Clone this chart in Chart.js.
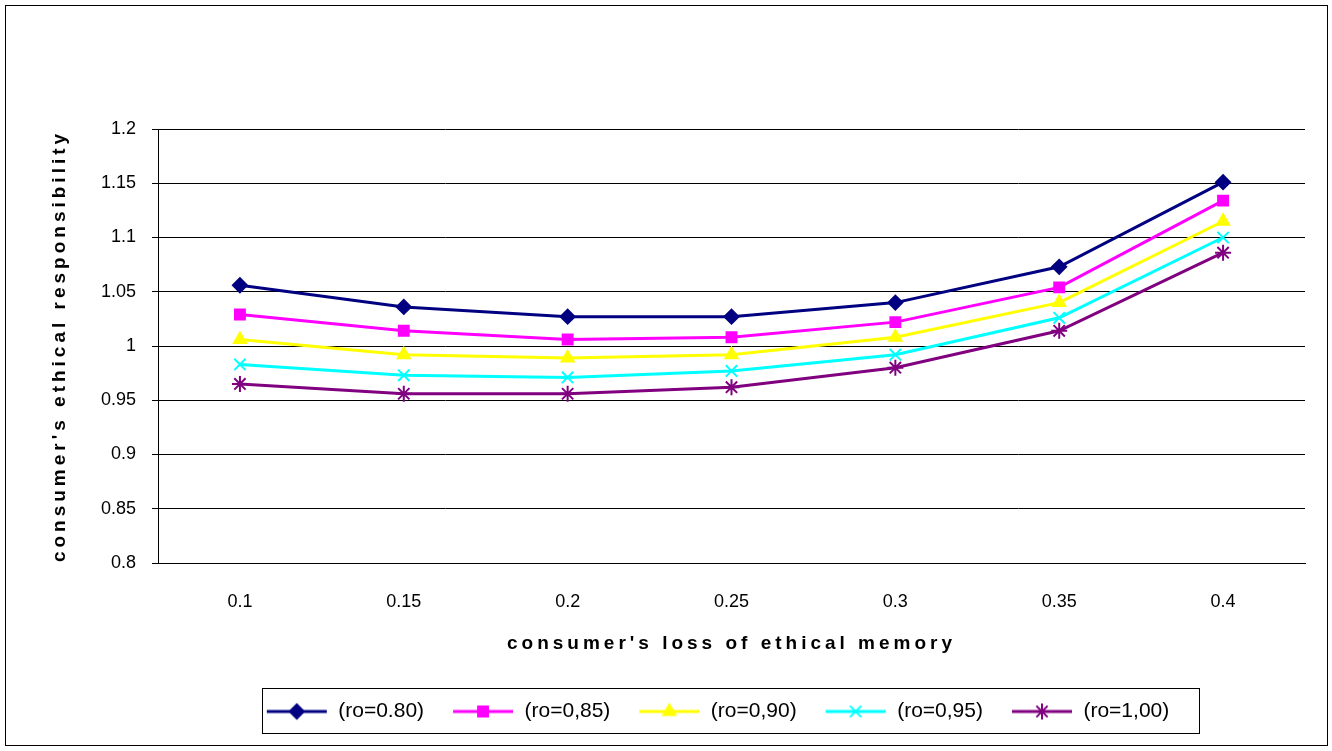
<!DOCTYPE html>
<html>
<head>
<meta charset="utf-8">
<script src="https://cdn.jsdelivr.net/npm/chart.js@4"></script>
<style>
  html, body { margin: 0; padding: 0; background: #fff; }
  #wrap { position: relative; width: 1332px; height: 751px; }
  #frame { position: absolute; left: 5px; top: 5px; width: 1321px; height: 739px; border: 1px solid #000; pointer-events: none; }
  canvas { position: absolute; left: 0; top: 0; }
</style>
</head>
<body>
<div id="wrap">
  <canvas id="c" width="1332" height="751"></canvas>
  <div id="frame"></div>
</div>
<script>
// data
const categories = ['0.1', '0.15', '0.2', '0.25', '0.3', '0.35', '0.4'];
const ro080 = [1.056, 1.036, 1.027, 1.027, 1.040, 1.073, 1.151];
const ro085 = [1.029, 1.014, 1.006, 1.008, 1.022, 1.054, 1.134];
const ro090 = [1.006, 0.992, 0.989, 0.992, 1.008, 1.040, 1.115];
const ro095 = [0.983, 0.973, 0.971, 0.977, 0.992, 1.026, 1.100];
const ro100 = [0.965, 0.956, 0.956, 0.962, 0.980, 1.014, 1.086];
const seriesNames = ['(ro=0.80)', '(ro=0,85)', '(ro=0,90)', '(ro=0,95)', '(ro=1,00)'];
const xTitle = "consumer's loss of ethical memory";
const yTitle = "consumer's ethical responsibility";

const FONT = 'Arial, "Liberation Sans", sans-serif';

const styles = [
    { color: '#000080', point: 'rectRot', radius: 7 },
    { color: '#FF00FF', point: 'rect', radius: 7 },
    { color: '#FFFF00', point: 'triangle', radius: 7 },
    { color: '#00FFFF', point: 'crossRot', radius: 8 },
    { color: '#800080', point: 'star', radius: 8 }
];

// legend symbol: a short line with the marker in the middle
function legendIcon(style) {
    const c = document.createElement('canvas');
    c.width = 62; c.height = 20;
    const ctx = c.getContext('2d');
    ctx.strokeStyle = style.color;
    ctx.lineWidth = 3;
    ctx.beginPath(); ctx.moveTo(1, 10); ctx.lineTo(61, 10); ctx.stroke();
    ctx.fillStyle = style.color;
    ctx.lineWidth = 2;
    Chart.helpers.drawPoint(ctx, { pointStyle: style.point, radius: style.radius, borderWidth: 2 }, 31, 10);
    return c;
}

const allSeries = [ro080, ro085, ro090, ro095, ro100];
const datasets = allSeries.map((vals, i) => ({
    label: seriesNames[i],
    data: vals,
    borderColor: styles[i].color,
    backgroundColor: styles[i].color,
    borderWidth: 3,
    pointStyle: styles[i].point,
    pointRadius: styles[i].radius,
    pointBorderWidth: 2,
    tension: 0
}));

// legend frame and spaced-out axis titles
const extras = {
    id: 'extras',
    afterLayout(chart) {
        // the legend sits right of centre in the reference
        chart.legend.left += 65;
        chart.legend.right += 65;
    },
    afterDraw(chart) {
        const ctx = chart.ctx;
        const area = chart.chartArea;
        ctx.save();
        ctx.strokeStyle = '#000';
        ctx.lineWidth = 1;
        ctx.strokeRect(262.5, 688.5, 937, 45);

        ctx.fillStyle = '#000';
        ctx.font = 'bold 19px ' + FONT;
        ctx.letterSpacing = '4px';
        ctx.textAlign = 'center';
        ctx.textBaseline = 'middle';
        ctx.fillText(xTitle, (area.left + area.right) / 2, 644);
        ctx.translate(60, (area.top + area.bottom) / 2);
        ctx.rotate(-Math.PI / 2);
        ctx.fillText(yTitle, 0, 0);
        ctx.restore();
    }
};

new Chart(document.getElementById('c'), {
    type: 'line',
    data: { labels: categories, datasets: datasets },
    options: {
        responsive: false,
        animation: false,
        layout: { padding: { top: 129, right: 27, bottom: 19, left: 0 } },
        plugins: {
            tooltip: { enabled: false },
            legend: {
                position: 'bottom',
                labels: {
                    usePointStyle: true,
                    pointStyleWidth: 62,
                    color: '#000',
                    font: { family: FONT, size: 21 },
                    padding: 28,
                    generateLabels(chart) {
                        return chart.data.datasets.map((ds, i) => ({
                            text: ds.label,
                            pointStyle: legendIcon(styles[i]),
                            datasetIndex: i,
                            fillStyle: ds.borderColor,
                            strokeStyle: ds.borderColor,
                            lineWidth: 0,
                            fontColor: '#000'
                        }));
                    }
                }
            }
        },
        scales: {
            x: {
                offset: true,
                afterFit(scale) { scale.height = 110; },
                grid: { display: false, offset: true, color: '#000', tickLength: 6 },
                border: { color: '#000', width: 1 },
                ticks: { color: '#000', font: { family: FONT, size: 18 }, padding: 22 }
            },
            y: {
                min: 0.8,
                max: 1.2,
                afterFit(scale) { scale.width = 158; },
                grid: { color: '#000', lineWidth: 1, tickLength: 6 },
                border: { color: '#000', width: 1 },
                ticks: { stepSize: 0.05, color: '#000', font: { family: FONT, size: 18 }, padding: 16,
                    callback: v => Math.round(v * 100) / 100 }
            }
        }
    },
    plugins: [extras]
});
</script>
</body>
</html>
